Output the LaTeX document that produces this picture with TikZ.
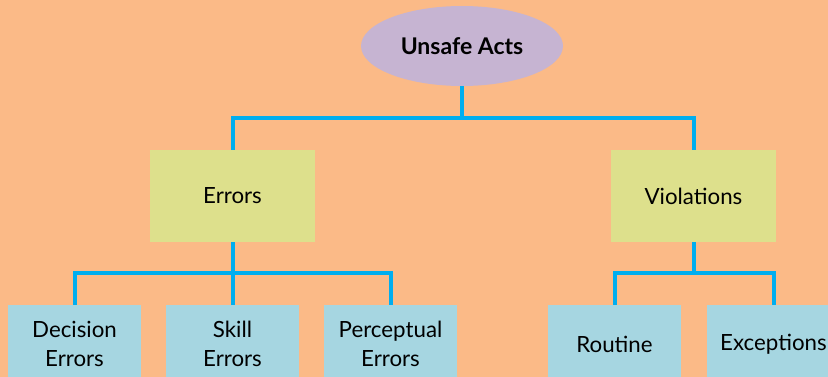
\documentclass[tikz,border=0pt]{standalone}
\usepackage{fontspec}
\setmainfont{Lato}
\usetikzlibrary{shapes.geometric}
\definecolor{bgpeach}{HTML}{FBBA87}
\definecolor{actlilac}{HTML}{C6B4D2}
\definecolor{boxgreen}{HTML}{DDE08C}
\definecolor{boxblue}{HTML}{A6D6E1}
\definecolor{linkblue}{HTML}{00AEEF}
\begin{document}
\begin{tikzpicture}[x=1pt, y=-1pt,
    top/.style={ellipse, fill=actlilac, minimum width=202pt, minimum height=80pt,
        font=\fontsize{23}{27}\selectfont\bfseries},
    mid/.style={rectangle, fill=boxgreen, minimum width=165pt, minimum height=92pt,
        font=\fontsize{22.3}{26}\selectfont},
    low/.style={rectangle, fill=boxblue, minimum width=133pt, minimum height=78pt,
        align=center, font=\fontsize{22.3}{29}\selectfont},
    link/.style={linkblue, line width=4pt}]
    % 1. Vùng hiển thị và nền
    \clip (0, 0) rectangle (828, 377);
    \fill[bgpeach] (0, 0) rectangle (828, 377);

    % 2. Nút gốc
    \node[top] (acts) at (462, 46) {Unsafe Acts};

    % 3. Hai nhánh chính
    \node[mid] (errors) at (232.5, 196) {Errors};
    \node[mid] (violations) at (693.5, 196) {Violations};

    % 4. Các nút lá
    \node[low] (decision) at (74.5, 344) {Decision\\Errors};
    \node[low] (skill) at (232.5, 344) {Skill\\Errors};
    \node[low] (perceptual) at (390.5, 344) {Perceptual\\Errors};
    \node[low] (routine) at (614.5, 344) {Routine};
    \node[low] (exceptions) at (773.5, 344) {Exceptions};

    % 5. Các điểm rẽ nhánh
    \coordinate (busA) at (462, 118);
    \coordinate (busB) at (232.5, 273);
    \coordinate (busC) at (693.5, 273);

    % 6. Đường nối
    \draw[link] (acts.south) -- (busA);
    \draw[link] (errors.north) |- (busA) -| (violations.north);
    \draw[link] (errors.south) -- (busB);
    \draw[link] (decision.north) |- (busB) -| (perceptual.north);
    \draw[link] (busB) -- (skill.north);
    \draw[link] (violations.south) -- (busC);
    \draw[link] (routine.north) |- (busC) -| (exceptions.north);
\end{tikzpicture}
\end{document}
